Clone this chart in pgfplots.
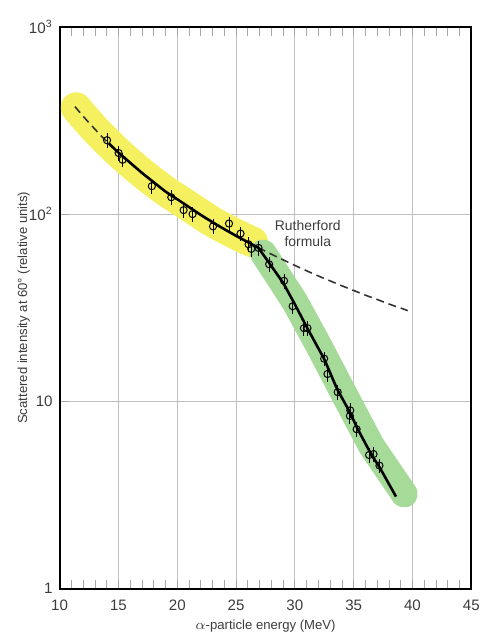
\documentclass[border=0pt]{standalone}
\usepackage{fontspec}
\setmainfont{Liberation Sans}
\usepackage{pgfplots}
\pgfplotsset{compat=1.18}
\definecolor{hlyellow}{RGB}{244,240,96}
\definecolor{hlgreen}{RGB}{166,218,152}
\definecolor{txt}{RGB}{60,60,60}
\begin{document}
\begin{tikzpicture}
\begin{axis}[
  name=ax,
  scale only axis,
  width=207pt, height=282.5pt,
  ymode=log,
  xmin=10, xmax=45, ymin=1, ymax=1000,
  xtick={10,15,...,45},
  minor x tick num=4,
  ytick={1,10,100,1000},
  yticklabels={1,10,10\textsuperscript{2},10\textsuperscript{3}},
  yminorticks=false,
  tick align=inside,
  xtick pos=both, ytick pos=left,
  major tick length=4.5pt, minor tick length=4.5pt,
  every tick/.style={gray!70, line width=0.4pt},
  grid=major,
  major grid style={gray!50, line width=0.45pt},
  axis line style={black, line width=0.9pt},
  /pgf/number format/assume math mode=true,
  ticklabel style={font=\fontsize{7.6}{8.5}\selectfont, text=txt},
  xticklabel style={yshift=-2pt},
  xlabel={$\alpha$-particle energy (MeV)},
  ylabel={Scattered intensity at 60° (relative units)},
  label style={font=\fontsize{6.6}{8}\selectfont, text=txt},
  xlabel style={at={(axis description cs:0.5,-0.067)}, anchor=center},
  ylabel style={at={(axis description cs:-0.087,0.5)}, anchor=center, rotate=0},
  clip=false,
]
% highlight bands
\addplot[hlyellow, line width=15.5pt, line cap=round, line join=round, smooth] coordinates {
 (11.4,370) (13,284) (15,213) (17,166) (19,133) (21,110) (23,91) (25,78) (26.4,71)};
\addplot[hlgreen, line width=13.5pt, line cap=round, line join=round] coordinates {
 (27.3,62) (30,34) (32,20) (34,11.5) (36.5,5.8) (39.3,3.2)};
% Rutherford formula (dashed)
\addplot[black!80, line width=0.8pt, dash pattern=on 4pt off 2.5pt, smooth] coordinates {
 (11.3,375) (12,333) (13,284) (14,244) (15,213) (16,188) (17,166) (18,148) (19,132)
 (20,120) (21,109) (22,99) (23,90.5) (24,83.1) (25,76.6) (26,70.8) (27,65.7)
 (28,61.1) (29,57.0) (30,53.2) (31,49.8) (32,46.7) (33,44.0) (34,41.4) (35,39.1)
 (36,36.9) (37,35.0) (38,33.1) (39,31.5) (39.6,30.5)};
% solid fit lines
\addplot[black, line width=1.3pt, smooth] coordinates {
 (14.2,238) (15,213) (16,188) (17,166) (18,148) (19,132) (20,120) (21,109) (22,99)
 (23,90.5) (24,83.1) (25,76.6) (26,70.8) (26.9,66)};
\addplot[black, line width=1.3pt] coordinates {
 (26.9,66) (27.8,55) (29.0,43) (30,33) (31,25) (32.5,16.8) (33.6,11.6)
 (34.7,8.7) (35.3,7.2) (36.5,5.2) (37.2,4.45) (38.6,3.1)};
% data points with error bars
\addplot[only marks, black, mark=o, mark size=1.8pt, mark options={fill=white, line width=0.5pt},
  error bars/.cd, y dir=both, y fixed relative=0.09,
  error bar style={line width=0.5pt}, error mark=none] coordinates {
 (14.03,248) (15.01,212) (15.35,195) (17.84,141) (19.49,123) (20.54,105) (21.30,100)
 (23.04,86) (24.40,89) (25.38,78.7) (26.06,69) (26.29,65.2) (26.91,66)
 (27.81,54) (29.08,44) (29.81,32.2) (30.77,24.6) (31.07,24.6) (32.49,16.9) (32.77,14.0)
 (33.64,11.2) (34.71,8.95) (34.68,8.36) (35.25,7.1) (36.31,5.17) (36.69,5.23) (37.19,4.54)};
\node[align=center, font=\fontsize{7}{8.3}\selectfont, text=txt] at (axis cs:31.1,79) {Rutherford\\formula};
\end{axis}
\path ([shift={(-30pt,-23.5pt)}]ax.south west) rectangle ([shift={(5.5pt,13.5pt)}]ax.north east);
\end{tikzpicture}
\end{document}
